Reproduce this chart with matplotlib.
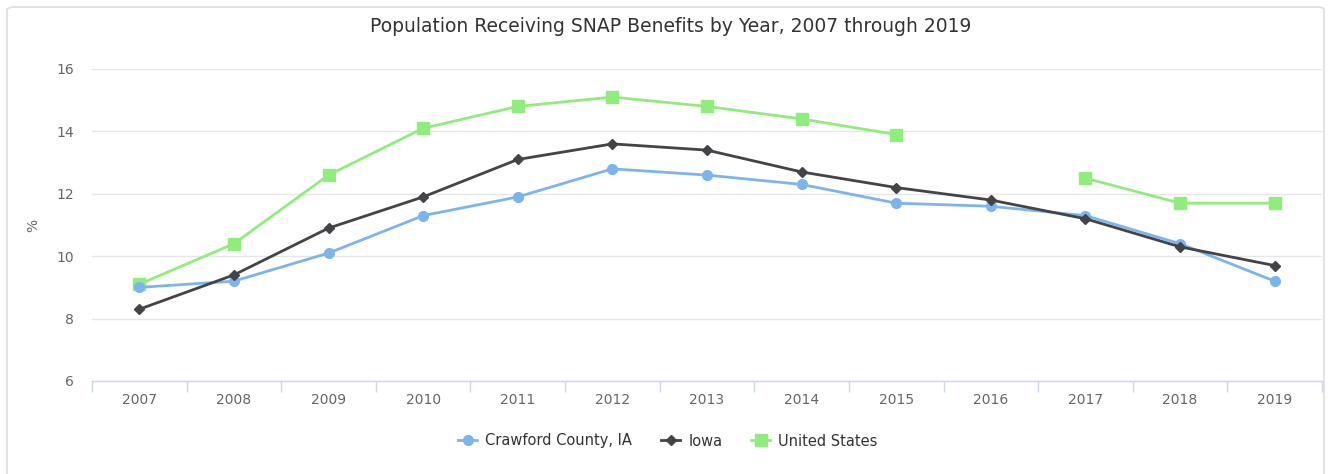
import numpy as np
import matplotlib
matplotlib.use("Agg")
import matplotlib.pyplot as plt
from matplotlib.patches import FancyBboxPatch

years = ["2007", "2008", "2009", "2010", "2011", "2012", "2013",
         "2014", "2015", "2016", "2017", "2018", "2019"]
crawford = [9.0, 9.2, 10.1, 11.3, 11.9, 12.8, 12.6, 12.3, 11.7, 11.6, 11.3, 10.4, 9.2]
iowa = [8.3, 9.4, 10.9, 11.9, 13.1, 13.6, 13.4, 12.7, 12.2, 11.8, 11.2, 10.3, 9.7]
united_states = [9.1, 10.4, 12.6, 14.1, 14.8, 15.1, 14.8, 14.4, 13.9, np.nan, 12.5, 11.7, 11.7]
y_ticks = [6, 8, 10, 12, 14, 16]

plt.rcParams['font.family'] = ['DejaVu Sans']

W, H = 1331, 474
fig = plt.figure(figsize=(W / 100, H / 100), dpi=100)

# outer card border
card = FancyBboxPatch((7 / W, -20 / H), (W - 14) / W, (H + 13) / H,
                      boxstyle="round,pad=0,rounding_size=0.006",
                      transform=fig.transFigure, facecolor="none",
                      edgecolor="#dddddd", linewidth=1.2, zorder=-10)
fig.patches.append(card)

left, right, top, bottom = 92, 1322, 69, 381
ax = fig.add_axes([left / W, 1 - bottom / H, (right - left) / W, (bottom - top) / H])
ax.set_facecolor("none")

x = np.arange(len(years))
ax.plot(x, crawford, color="#7cb5ec", lw=2, marker="o", markersize=7,
        label="Crawford County, IA", zorder=3)
ax.plot(x, iowa, color="#434348", lw=2, marker="D", markersize=5.5,
        label="Iowa", zorder=4)
ax.plot(x, united_states, color="#90ed7d", lw=2, marker="s", markersize=8,
        label="United States", zorder=2)

ax.set_xlim(-0.5, len(years) - 0.5)
ax.set_ylim(6, 16)
ax.set_yticks(y_ticks)
ax.set_yticklabels([str(v) for v in y_ticks])
ax.grid(axis="y", color="#e6e6e6", linewidth=1)
ax.set_axisbelow(True)

ax.set_xticks(x)
ax.set_xticklabels(years)
ax.set_xticks(np.arange(-0.5, len(years)), minor=True)
ax.tick_params(axis="x", which="major", length=0, pad=8.5, labelsize=10, labelcolor="#666666")
ax.tick_params(axis="x", which="minor", length=8, width=1, color="#ccd6eb", direction="out")
ax.tick_params(axis="y", length=0, pad=13, labelsize=10, labelcolor="#666666")

for s in ["top", "right", "left"]:
    ax.spines[s].set_visible(False)
ax.spines["bottom"].set_color("#ccd6eb")
ax.spines["bottom"].set_linewidth(1)

fig.text(33 / W, 1 - 225 / H, "%", rotation=90, ha="center", va="center",
         color="#666666", fontsize=10)

fig.text(670.5 / W, 1 - 27 / H, "Population Receiving SNAP Benefits by Year, 2007 through 2019",
         ha="center", va="center", fontsize=13.5, color="#333333")

handles, labels = ax.get_legend_handles_labels()
fig.legend(handles, labels, loc="center", bbox_to_anchor=(668 / W, 1 - 441 / H),
           ncol=3, frameon=False, fontsize=10.5, handlelength=1.3,
           columnspacing=2.0, handletextpad=0.55, labelcolor="#333333")

fig.savefig("out.png", dpi=100)
